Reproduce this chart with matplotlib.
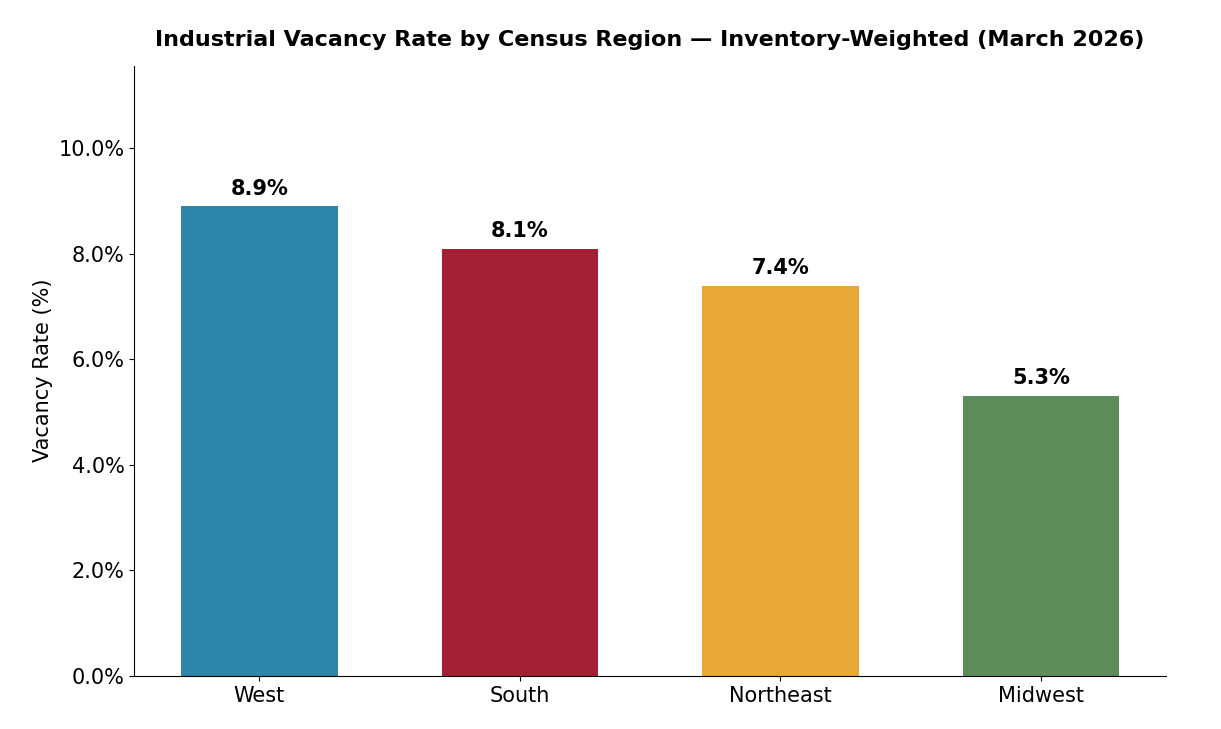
import matplotlib.pyplot as plt
from matplotlib.ticker import FuncFormatter

regions = ["West", "South", "Northeast", "Midwest"]
vacancy = [8.9, 8.1, 7.4, 5.3]
colors = ["#2E86AB", "#A31F34", "#E8A838", "#5D8C5A"]

fig, ax = plt.subplots(figsize=(12.21, 7.29), dpi=100)
bars = ax.bar(regions, vacancy, width=0.6, color=colors)

for b, v in zip(bars, vacancy):
    ax.text(b.get_x() + b.get_width() / 2, v + 0.15, f"{v:.1f}%",
            ha="center", va="bottom", fontsize=15, fontweight="bold")

ax.set_ylim(0, max(vacancy) * 1.3)
ax.yaxis.set_major_formatter(FuncFormatter(lambda y, _: f"{y:.1f}%"))
ax.set_ylabel("Vacancy Rate (%)", fontsize=15)
ax.set_title("Industrial Vacancy Rate by Census Region — Inventory-Weighted (March 2026)",
             fontsize=16, fontweight="bold", pad=14)
ax.tick_params(labelsize=15)
ax.spines["top"].set_visible(False)
ax.spines["right"].set_visible(False)

fig.subplots_adjust(left=0.11, right=0.955, top=0.91, bottom=0.073)
fig.savefig("out.png")
